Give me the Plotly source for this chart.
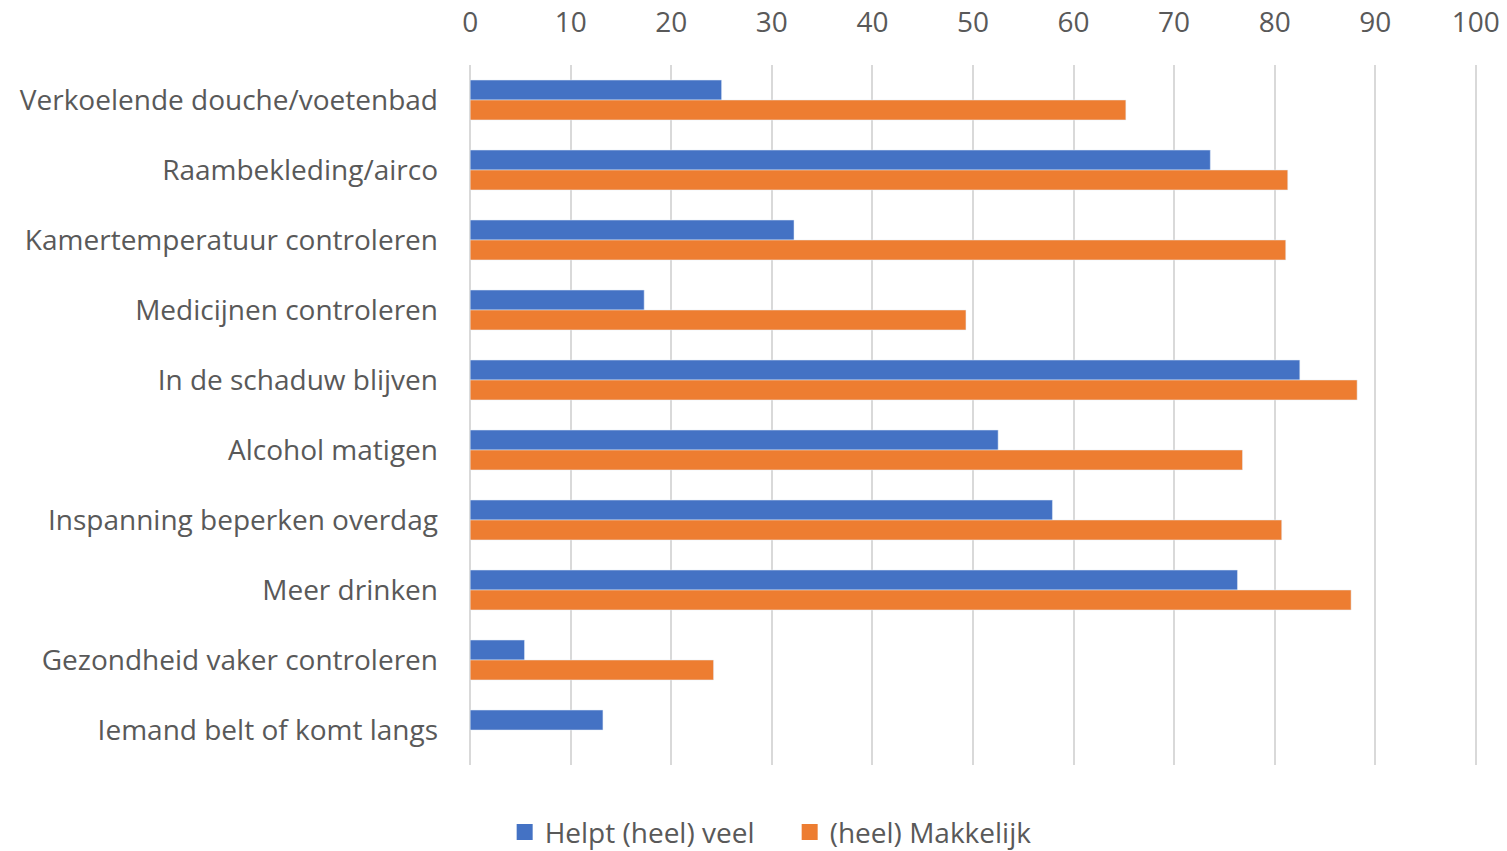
import plotly.graph_objects as go

categories = [
    "Verkoelende douche/voetenbad",
    "Raambekleding/airco",
    "Kamertemperatuur controleren",
    "Medicijnen controleren",
    "In de schaduw blijven",
    "Alcohol matigen",
    "Inspanning beperken overdag",
    "Meer drinken",
    "Gezondheid vaker controleren",
    "Iemand belt of komt langs",
]
helpt_veel = [25.0, 73.6, 32.2, 17.3, 82.5, 52.5, 57.9, 76.3, 5.4, 13.2]
makkelijk = [65.2, 81.3, 81.1, 49.3, 88.2, 76.8, 80.7, 87.6, 24.2, None]
x_ticks = [0, 10, 20, 30, 40, 50, 60, 70, 80, 90, 100]
series_names = ["Helpt (heel) veel", "(heel) Makkelijk"]
series_colors = ["#4472C4", "#ED7D31"]

FONT = "Open Sans"
TXT = "#595959"
FS = 28

fig = go.Figure()
for vals, name, col in zip([helpt_veel, makkelijk], series_names, series_colors):
    fig.add_trace(go.Bar(y=categories, x=vals, orientation="h", name=name,
                         marker=dict(color=col), showlegend=False))
# legend-only entries with larger square swatches
for name, col in zip(series_names, series_colors):
    fig.add_trace(go.Scatter(x=[None], y=[None], mode="markers", name=name,
                             marker=dict(symbol="square", size=16, color=col),
                             showlegend=True))

fig.update_layout(
    width=1507, height=851,
    margin=dict(l=469, r=30, t=65, b=86, autoexpand=False),
    paper_bgcolor="white", plot_bgcolor="white",
    barmode="group", bargap=0.43, bargroupgap=0,
    font=dict(family=FONT, size=FS, color=TXT),
    legend=dict(orientation="h", xref="container", yref="container",
                x=0.524, y=0.022, xanchor="center", yanchor="middle",
                entrywidth=240,
                font=dict(size=FS, color=TXT), traceorder="normal"),
    xaxis=dict(side="top", range=[-0.12, 100.12], tickvals=x_ticks,
               showgrid=True, gridcolor="#D9D9D9", gridwidth=2,
               zeroline=False, showline=False, ticks="", automargin=False,
               ticklabelstandoff=26, tickfont=dict(size=FS, color=TXT)),
    yaxis=dict(autorange="reversed", showgrid=False, zeroline=False,
               showline=False, ticks="", ticklabelstandoff=30, automargin=False,
               tickfont=dict(size=FS, color=TXT)),
)

fig.write_html("out.html")
